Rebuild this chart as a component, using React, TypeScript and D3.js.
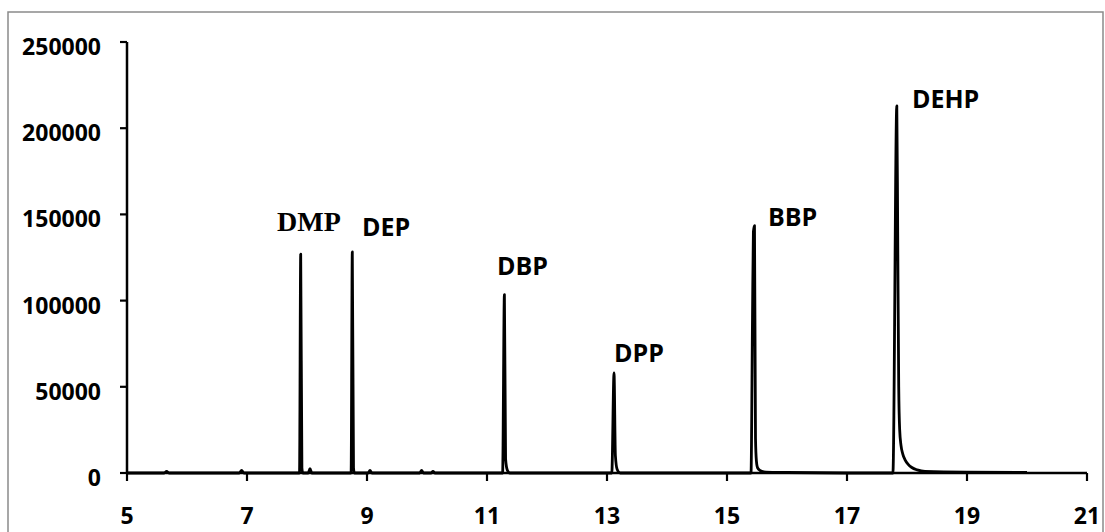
import React from "react";
import * as d3 from "d3";

// Chromatogram trace: retention time (min) and signal
const traceTime = [
  5.0, 5.62, 5.66, 5.70, 6.87, 6.91, 6.95,
  7.875, 7.895, 7.915, 7.93, 8.02, 8.05, 8.08,
  8.735, 8.755, 8.775, 8.79, 9.02, 9.05, 9.08,
  9.88, 9.91, 9.94, 10.07, 10.1, 10.13,
  11.26, 11.29, 11.31, 11.34, 11.38,
  13.08, 13.117, 13.14, 13.17, 13.22,
  15.40, 15.425, 15.44, 15.458, 15.475, 15.49, 15.51, 15.55, 15.65, 16.0, 17.0,
  17.765, 17.83, 17.845, 17.862, 17.878, 17.9, 17.93, 17.97, 18.02, 18.08, 18.17, 18.3, 19.0, 20.0,
];
const traceSignal = [
  0, 0, 1000, 0, 0, 1500, 0,
  0, 127000, 3000, 0, 0, 2500, 0,
  0, 128300, 3000, 0, 0, 1500, 0,
  0, 1500, 0, 0, 1000, 0,
  0, 103500, 8000, 1500, 0,
  0, 58000, 10000, 2000, 0,
  0, 90000, 140000, 143500, 20000, 7000, 3000, 1500, 500, 300, 0,
  0, 213000, 140000, 50000, 25000, 16000, 11000, 7500, 5000, 3200, 1800, 900, 500, 400,
];

const peakNames = ["DMP", "DEP", "DBP", "DPP", "BBP", "DEHP"];
const labelTime = [7.5, 8.917, 11.167, 13.117, 15.683, 18.083];
const labelSignal = [140100, 137200, 115100, 64500, 143000, 211600];

const xTicks = [5, 7, 9, 11, 13, 15, 17, 19, 21];
const yTicks = [0, 50000, 100000, 150000, 200000, 250000];

export default function App() {
  const W = 1105;
  const H = 532;
  const x = d3.scaleLinear().domain([5, 21]).range([127, 1087]);
  const y = d3.scaleLinear().domain([0, 250000]).range([473, 42]);
  const pts: [number, number][] = traceTime.map((t, i) => [t, traceSignal[i]]);
  const line = d3
    .line<[number, number]>()
    .x((d) => x(d[0]))
    .y((d) => y(d[1]))
    .curve(d3.curveMonotoneX);
  const sans = "'Open Sans', sans-serif";
  return (
    <svg
      width={W}
      height={H}
      style={{ position: "absolute", left: 0, top: 0, background: "#fff" }}
    >
      <rect x={8} y={12} width={1095} height={540} fill="#fff" stroke="#8a8a8a" strokeWidth={1.5} />
      {/* trace */}
      <path d={line(pts) || ""} fill="none" stroke="#000" strokeWidth={2.8} strokeLinejoin="round" />
      {/* axes */}
      <line x1={x(5)} x2={x(5)} y1={y(250000)} y2={y(0)} stroke="#000" strokeWidth={2.5} />
      <line x1={x(5)} x2={x(21)} y1={y(0)} y2={y(0)} stroke="#000" strokeWidth={2.5} />
      {yTicks.map((v) => (
        <g key={"y" + v}>
          <line x1={x(5) - 7} x2={x(5)} y1={y(v)} y2={y(v)} stroke="#000" strokeWidth={2.2} />
          <text
            x={101}
            y={y(v) + 13}
            textAnchor="end"
            fontFamily={sans}
            fontWeight="bold"
            fontSize={23}
            fill="#000"
          >
            {v}
          </text>
        </g>
      ))}
      {xTicks.map((t) => (
        <g key={"x" + t}>
          <line x1={x(t)} x2={x(t)} y1={y(0)} y2={y(0) + 8} stroke="#000" strokeWidth={2.2} />
          <text
            x={x(t)}
            y={524}
            textAnchor="middle"
            fontFamily={sans}
            fontWeight="bold"
            fontSize={23}
            fill="#000"
          >
            {t}
          </text>
        </g>
      ))}
      {peakNames.map((n, i) => (
        <text
          key={n}
          x={x(labelTime[i])}
          y={y(labelSignal[i])}
          fontFamily={n === "DMP" ? "'Liberation Serif', serif" : sans}
          fontWeight="bold"
          fontSize={n === "DMP" ? 28 : 25}
          fill="#000"
        >
          {n}
        </text>
      ))}
    </svg>
  );
}
